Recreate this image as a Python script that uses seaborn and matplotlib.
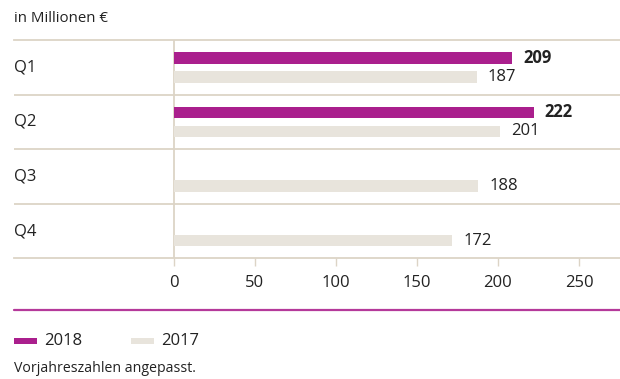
import matplotlib
matplotlib.use("Agg")
import matplotlib.pyplot as plt
from matplotlib.lines import Line2D
from matplotlib.patches import Rectangle
import seaborn as sns
import pandas as pd

# Data (in Millionen €)
quarters = ["Q1", "Q2", "Q3", "Q4"]
values_2018 = [209, 222]          # only Q1 and Q2 reported so far
values_2017 = [187, 201, 188, 172]
years = ["2018", "2017"]
x_ticks = [0, 50, 100, 150, 200, 250]

colors = {"2018": "#AA1F8D", "2017": "#E8E4DC"}
line_col = "#DCD4C6"
text_col = "#222222"

rows = []
for q, v in zip(quarters, values_2018):
    rows.append({"Quartal": q, "Jahr": "2018", "Wert": v})
for q, v in zip(quarters, values_2017):
    rows.append({"Quartal": q, "Jahr": "2017", "Wert": v})
df = pd.DataFrame(rows)

sns.set_style("white")
plt.rcParams["font.family"] = ["Open Sans", "DejaVu Sans"]
plt.rcParams["text.color"] = text_col

W, H = 620, 379
fig = plt.figure(figsize=(W / 100, H / 100), dpi=100)

def fx(x):
    return x / W

def fy(y):
    return 1 - y / H

# plot area spans the full row width; x=0 sits at 173.5 px
top_px, bot_px = 40, 258.3
ax = fig.add_axes([fx(14), fy(bot_px), fx(620 - 14), (bot_px - top_px) / H])

sns.barplot(data=df, y="Quartal", x="Wert", hue="Jahr", order=quarters,
            hue_order=years, palette=colors, orient="h", width=0.696,
            gap=0.385, dodge=True, legend=False, ax=ax, saturation=1,
            linewidth=0, edgecolor="none")

scale = 1.622  # px per unit
ax.set_xlim((14 - 173.5) / scale, (620 - 173.5) / scale)
ax.set_ylim(len(quarters) - 0.5, -0.5)

# spines: only the top and bottom rules
for side in ["left", "right"]:
    ax.spines[side].set_visible(False)
for side in ["top", "bottom"]:
    ax.spines[side].set_color(line_col)
    ax.spines[side].set_linewidth(1.3)

# row separators and the zero line
for b in [0.5, 1.5, 2.5]:
    ax.axhline(b, color=line_col, lw=1.3, zorder=0)
ax.axvline(0, color=line_col, lw=1.3, zorder=0)

ax.set_xticks(x_ticks)
ax.set_xticklabels([str(t) for t in x_ticks], fontsize=12, color=text_col)
ax.tick_params(axis="x", direction="out", length=5.8, width=1.0,
               color=line_col, pad=6, bottom=True)
ax.set_yticks([])
ax.set_xlabel("")
ax.set_ylabel("")

# quarter labels at the left edge of each row
for i, q in enumerate(quarters):
    ax.text(0.0, i, q, transform=ax.get_yaxis_transform(), ha="left",
            va="center", fontsize=12, color=text_col)

# value labels next to each bar
for cont, weight in zip(ax.containers, ["bold", "normal"]):
    ax.bar_label(cont, fmt="%d", padding=8, fontsize=12,
                 fontweight=weight, color=text_col)

# unit caption
fig.text(fx(14), fy(18), "in Millionen €", ha="left", va="center",
         fontsize=10.8, color=text_col)

# accent rule below the axis
fig.add_artist(Line2D([fx(14), fx(620)], [fy(310.3), fy(310.3)],
                      color="#B5399A", lw=1.6))

# legend
for x0, yr in [(14, "2018"), (131, "2017")]:
    fig.add_artist(Rectangle((fx(x0), fy(344.3)), fx(23), 6.6 / H,
                             facecolor=colors[yr], edgecolor="none"))
    fig.text(fx(x0 + 30), fy(341), yr, ha="left", va="center",
             fontsize=12, color=text_col)

fig.text(fx(14), fy(368), "Vorjahreszahlen angepasst.", ha="left",
         va="center", fontsize=10.2, color=text_col)

fig.savefig("out.png", dpi=100)
